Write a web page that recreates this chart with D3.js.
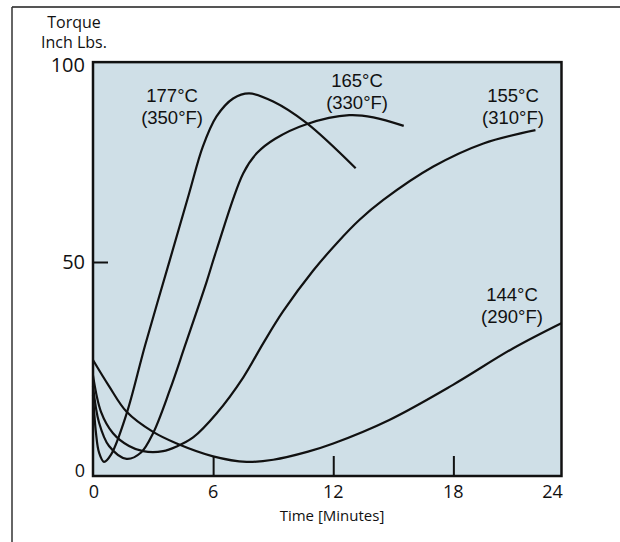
<!DOCTYPE html>
<html>
<head>
<meta charset="utf-8">
<script src="https://cdn.jsdelivr.net/npm/d3@7"></script>
<style>
  body { margin: 0; background: #fff; }
  text { font-family: "Open Sans", sans-serif; fill: #111; }
  .clabel text { font-family: "Liberation Sans", sans-serif; }
</style>
</head>
<body>
<div id="chart"></div>
<script>
// Cure curves, torque (inch lbs) vs time (minutes)
const series = ["177°C", "165°C", "155°C", "144°C"];
const seriesF = ["(350°F)", "(330°F)", "(310°F)", "(290°F)"];

const curve177 = [
  [0, 19], [0.15, 10], [0.3, 5.5], [0.55, 3.3], [0.9, 5], [1.68, 14.6],
  [2.6, 30.5], [3.84, 50.5], [4.8, 66], [5.49, 77], [6.17, 84], [7, 88.2],
  [7.8, 89.4], [9, 87.5], [10.66, 82.5], [13.12, 71.9]
];
const curve165 = [
  [0, 21], [0.3, 12.5], [0.8, 7], [1.68, 4.0], [2.4, 5.5], [3.0, 10],
  [3.84, 20.1], [4.6, 30.5], [5.67, 45.3], [6.17, 52.8], [7.5, 70.7],
  [8.2, 75.5], [9.1, 78.8], [10.66, 82.2], [12.8, 84.3], [14, 83.8],
  [15.52, 81.8]
];
const curve155 = [
  [0, 23.5], [0.4, 15], [1, 10], [1.8, 7], [2.5, 5.8], [3.5, 5.8],
  [4.18, 6.9], [5, 9], [6.17, 14.6], [7.5, 23], [8.5, 31], [9.5, 38.5],
  [11, 48], [12.2, 54.5], [13.3, 59.8], [14.5, 64.5], [17, 72.3],
  [19.5, 77.7], [22.1, 80.8]
];
const curve144 = [
  [0, 27.1], [0.8, 21], [1.68, 15], [3, 10.3], [4.18, 7.6], [6, 4.6],
  [7.67, 3.3], [9, 3.8], [10.74, 5.7], [12, 7.6], [14.8, 13.1],
  [17.98, 21.3], [20.97, 29.8], [23.39, 35.7]
];
const curves = [curve177, curve165, curve155, curve144];

const xTicks = [0, 6, 12, 18, 24];
const yTicks = [0, 50, 100];

// label anchors in data units (time, torque)
const labelAt = [[3.95, 88.6], [13.19, 92.1], [20.98, 88.6], [20.93, 42.1]];

const width = 620;
const height = 542;

const svg = d3
  .select("#chart")
  .append("svg")
  .attr("width", width)
  .attr("height", height);

// outer frame (top and left only)
svg.append("line")
  .attr("x1", 12).attr("y1", 7).attr("x2", width).attr("y2", 7)
  .style("stroke", "#555").style("stroke-width", 2);
svg.append("line")
  .attr("x1", 12).attr("y1", 7).attr("x2", 12).attr("y2", height)
  .style("stroke", "#333").style("stroke-width", 1.5);

const x = d3.scaleLinear().domain([0, 24]).range([93, 573.5]);
const y = d3.scaleLinear().domain([0, 100]).range([476, 48]);

// plotted box ends a little short of the last tick values
const boxRight = x(23.4);
const boxTop = y(96.7);

svg.append("rect")
  .attr("x", x(0))
  .attr("y", boxTop)
  .attr("width", boxRight - x(0))
  .attr("height", y(0) - boxTop)
  .style("fill", "#cfdfe7");

// inward ticks
svg.append("g")
  .attr("transform", `translate(0,${y(0)})`)
  .call(d3.axisBottom(x).tickValues([6, 12, 18]).tickSize(-20).tickFormat(""))
  .call((g) => g.select(".domain").remove())
  .call((g) => g.selectAll("line").style("stroke", "#111").style("stroke-width", 2));

svg.append("g")
  .attr("transform", `translate(${x(0)},0)`)
  .call(d3.axisLeft(y).tickValues([50]).tickSize(-15).tickFormat(""))
  .call((g) => g.select(".domain").remove())
  .call((g) => g.selectAll("line").style("stroke", "#111").style("stroke-width", 2));

// curves
const line = d3
  .line()
  .x((d) => x(d[0]))
  .y((d) => y(d[1]))
  .curve(d3.curveCatmullRom.alpha(0.5));

svg.append("g")
  .selectAll("path")
  .data(curves)
  .enter()
  .append("path")
  .attr("d", line)
  .style("fill", "none")
  .style("stroke", "#111")
  .style("stroke-width", 2.2);

// box border
svg.append("rect")
  .attr("x", x(0))
  .attr("y", boxTop)
  .attr("width", boxRight - x(0))
  .attr("height", y(0) - boxTop)
  .style("fill", "none")
  .style("stroke", "#111")
  .style("stroke-width", 2.5);

// tick labels
svg.selectAll(".xlabel")
  .data(xTicks)
  .enter()
  .append("text")
  .attr("class", "xlabel")
  .attr("x", (d) => Math.min(x(d) + (d === 0 ? 1 : 0), boxRight - 9))
  .attr("y", 498)
  .attr("text-anchor", "middle")
  .style("font-size", "18px")
  .text((d) => d);

svg.selectAll(".ylabel")
  .data(yTicks)
  .enter()
  .append("text")
  .attr("class", "ylabel")
  .attr("x", x(0) - 8)
  .attr("y", (d) => Math.min(Math.max(y(d), boxTop + 3), y(0) - 5))
  .attr("dy", "0.35em")
  .attr("text-anchor", "end")
  .style("font-size", (d) => (d === 0 ? "18px" : "20px"))
  .text((d) => d);

// axis titles
svg.append("text")
  .attr("x", 74).attr("y", 28)
  .attr("text-anchor", "middle")
  .style("font-size", "16px")
  .text("Torque");
svg.append("text")
  .attr("x", 74).attr("y", 48)
  .attr("text-anchor", "middle")
  .style("font-size", "16px")
  .text("Inch Lbs.");
svg.append("text")
  .attr("x", 332).attr("y", 521)
  .attr("text-anchor", "middle")
  .style("font-size", "15px")
  .text("Time [Minutes]");

// curve labels, two lines each
const labels = svg.selectAll(".clabel")
  .data(series)
  .enter()
  .append("g")
  .attr("class", "clabel");

labels.append("text")
  .attr("x", (d, i) => x(labelAt[i][0]))
  .attr("y", (d, i) => y(labelAt[i][1]) - 1)
  .attr("dy", "0.35em")
  .attr("text-anchor", "middle")
  .style("font-size", "18.5px")
  .text((d) => d);
labels.append("text")
  .attr("x", (d, i) => x(labelAt[i][0]))
  .attr("y", (d, i) => y(labelAt[i][1]) + 20.5)
  .attr("dy", "0.35em")
  .attr("text-anchor", "middle")
  .style("font-size", "18.5px")
  .text((d, i) => seriesF[i]);
</script>
</body>
</html>
